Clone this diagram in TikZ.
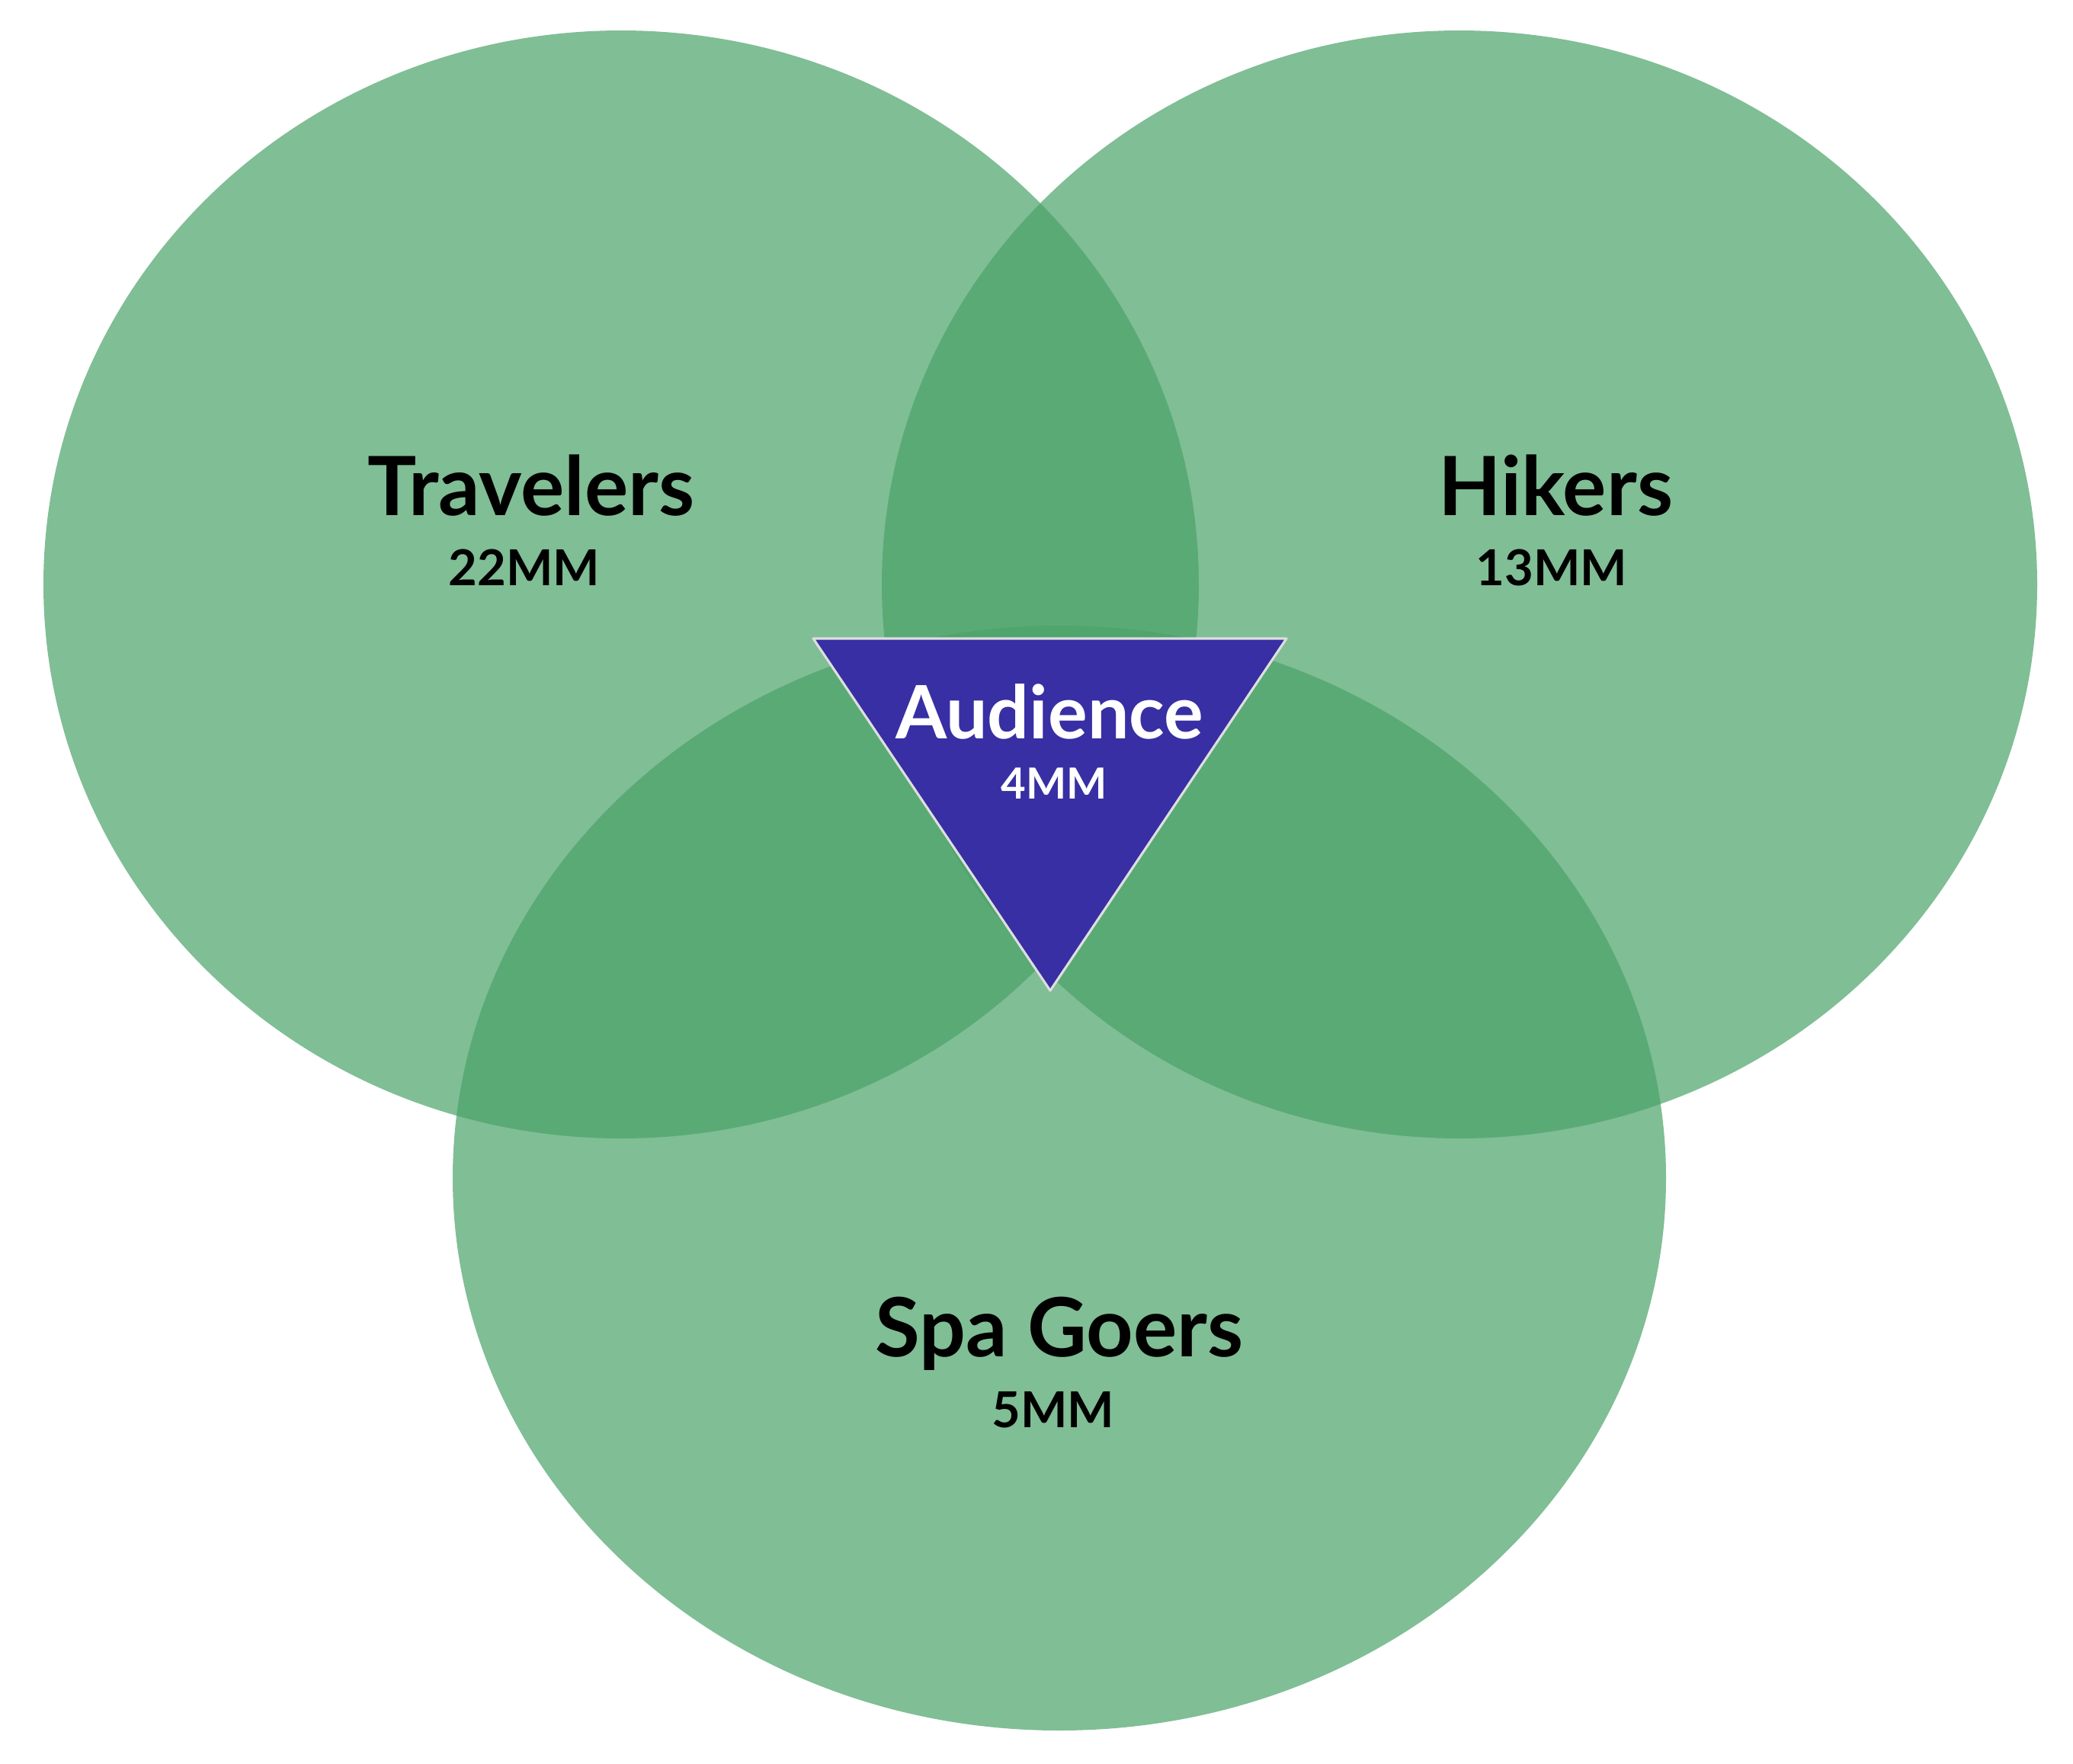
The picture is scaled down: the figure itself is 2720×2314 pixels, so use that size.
\documentclass[tikz,border=0pt]{standalone}
\usepackage{fontspec}
\setmainfont{Lato}
\definecolor{setgreen}{RGB}{74,162,104}
\definecolor{audblue}{RGB}{55,47,163}
\definecolor{rimgray}{RGB}{222,222,222}
\tikzset{
  setfill/.style={fill=setgreen,fill opacity=0.7},
  setname/.style={anchor=base,font=\fontsize{30.5}{32}\selectfont\bfseries},
  setsize/.style={anchor=base,font=\fontsize{18.5}{20}\selectfont\bfseries},
}
\begin{document}
\begin{tikzpicture}[x=0.01cm,y=-0.01cm,line join=round,line cap=round]
				\useasboundingbox (0,0) rectangle (2720,2314);
				\path
				(815,767) coordinate (T)
				(1915,767) coordinate (H)
				(1390,1546) coordinate (S)
				(1067,838) coordinate (A1)
				(1688,838) coordinate (A2)
				(1378,1300) coordinate (A3)
				;
				% the three sets
				\fill[setfill] (T) ellipse [x radius=758,y radius=727];
				\fill[setfill] (H) ellipse [x radius=758,y radius=727];
				\fill[setfill] (S) ellipse [x radius=796,y radius=725];
				% the audience
				\draw[draw=rimgray,line width=0.9pt,fill=audblue] (A1)--(A2)--(A3)--cycle;
				\foreach \n/\t/\x/\y in {trav/Travelers/697/676,hike/Hikers/2041/676,spa/Spa Goers/1390/1780}
				\node[setname] (\n) at (\x,\y) {\t};
				\foreach \n/\t/\x/\y in {travmm/22MM/688/768,hikemm/13MM/2036/768,spamm/5MM/1382/1873}
				\node[setsize] (\n) at (\x,\y) {\t};
				\node[setname,white,font=\fontsize{27.5}{29}\selectfont\bfseries] (aud) at (1377,969) {Audience};
				\node[setsize,white,font=\fontsize{16}{18}\selectfont\bfseries] (audmm) at (1383,1048) {4MM};
			\end{tikzpicture}
\end{document}
